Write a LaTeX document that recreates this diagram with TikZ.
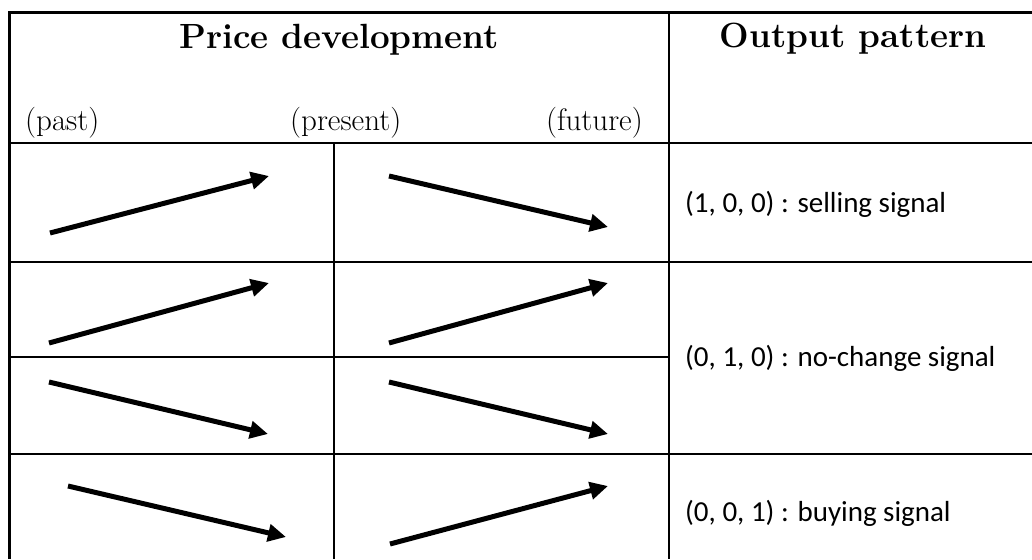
\documentclass[tikz,border=0pt]{standalone}
\usepackage{fontspec}
\newfontfamily\labelfont{Carlito}
\usetikzlibrary{arrows.meta}
\tikzset{
  frame/.style={line width=3pt, line join=miter},
  rule/.style={line width=1.6pt},
  trend/.style={line width=5pt, -{Triangle[length=18pt,width=17pt]}},
  headtext/.style={font=\bfseries\fontsize{35}{40}\selectfont, inner sep=0pt, anchor=base},
  timetext/.style={font=\fontsize{31}{36}\selectfont, inner sep=0pt},
  signal/.style={font=\labelfont\fontsize{29}{34}\selectfont, inner sep=0pt, anchor=base west},
}
\begin{document}
\begin{tikzpicture}[x=1pt,y=-1pt]
\useasboundingbox (0,0) rectangle (1032,559);

% table rules
\draw[frame] (9,559) -- (9,13) -- (1032,13);
\draw[rule] (9,143) -- (1032,143);
\draw[rule] (9,262) -- (1032,262);
\draw[rule] (9,357) -- (669,357);
\draw[rule] (9,454) -- (1032,454);
\draw[rule] (669,13) -- (669,559);
\draw[rule] (334,143) -- (334,559);

% header
\node[headtext] (price) at (339,49) {Price development};
\node[headtext] (output) at (853,48) {Output pattern};
\node[timetext, anchor=base west] (past) at (25,130) {(past)};
\node[timetext, anchor=base west] (present) at (290,130) {(present)};
\node[timetext, anchor=base east] (future) at (643,130) {(future)};

% output patterns
\node[signal] (sell) at (685,212) {(1, 0, 0) : selling signal};
\node[signal] (hold) at (685,366) {(0, 1, 0) : no-change signal};
\node[signal] (buy) at (685,521) {(0, 0, 1) : buying signal};

% trend end points
\coordinate (r1a) at (50,233);  \coordinate (r1b) at (269,176);
\coordinate (r1c) at (389,176); \coordinate (r1d) at (608,227);
\coordinate (r2a) at (49,343);  \coordinate (r2b) at (269,283);
\coordinate (r2c) at (389,343); \coordinate (r2d) at (608,283);
\coordinate (r3a) at (49,382);  \coordinate (r3b) at (268,434);
\coordinate (r3c) at (389,382); \coordinate (r3d) at (608,434);
\coordinate (r4a) at (68,486);  \coordinate (r4b) at (286,537);
\coordinate (r4c) at (390,544); \coordinate (r4d) at (608,486);

% price trends
\draw[trend] (r1a) -- (r1b);
\draw[trend] (r1c) -- (r1d);
\draw[trend] (r2a) -- (r2b);
\draw[trend] (r2c) -- (r2d);
\draw[trend] (r3a) -- (r3b);
\draw[trend] (r3c) -- (r3d);
\draw[trend] (r4a) -- (r4b);
\draw[trend] (r4c) -- (r4d);
\end{tikzpicture}
\end{document}
